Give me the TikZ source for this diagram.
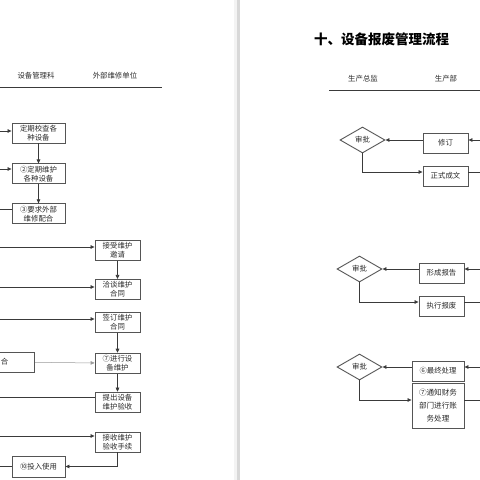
\documentclass[tikz,border=0pt]{standalone}
\usepackage{fontspec}
\setmainfont{Noto Sans CJK SC}
\usepackage{xcolor}
\usepackage{tikz}
\usetikzlibrary{arrows.meta,positioning,shapes.geometric}
\definecolor{fcInk}{HTML}{2B2B2B}
\definecolor{fcLine}{HTML}{3A3A3A}
\definecolor{fcBorder}{HTML}{555555}
\definecolor{fcSoft}{HTML}{9A9A9A}
\definecolor{fcSep}{HTML}{D8D8D8}
\definecolor{fcSepLight}{HTML}{F3F3F3}
\tikzset{
  fbox/.style={rectangle,draw=fcBorder,line width=0.9pt,fill=white,
    minimum width=45pt,minimum height=20pt,inner sep=1pt,
    align=center,font=\fontsize{7.4}{9}\selectfont,text=fcInk},
  lbox/.style={fbox,minimum width=53pt},
  jbox/.style={diamond,draw=fcBorder,line width=0.9pt,fill=white,
    minimum width=45pt,minimum height=26pt,inner sep=0pt,
    font=\fontsize{7.4}{9}\selectfont,text=fcInk},
  arr/.style={-{Triangle[length=4pt,width=3.6pt]},line width=0.7pt,color=fcLine},
  arrg/.style={arr,color=fcSoft,line width=0.5pt},
  lnk/.style={line width=0.7pt,color=fcLine},
  hdr/.style={font=\fontsize{7.4}{9}\selectfont,text=fcInk},
  ttl/.style={font=\fontsize{13.5}{15}\selectfont\bfseries,text=black},
}

\begin{document}
\begin{tikzpicture}[x=1pt,y=1pt]
  \useasboundingbox (0,0) rectangle (480,480);
  % page gap
  \fill[fcSepLight] (233.5,0) rectangle (237,480);
  \fill[fcSep] (237,0) rectangle (239.5,480);

  % left page
  \node[hdr] (hglk) at (36,404) {设备管理科};
  \node[hdr] (hwx) at (115,404) {外部维修单位};
  \draw[lnk] (-5,393) -- (162,393);

  \node[lbox] (jc) at (38.5,347) {定期校查各\\种设备};
  \node[lbox,below=20pt of jc] (dqwh) {②定期维护\\各种设备};
  \node[lbox,below=19pt of dqwh] (yqwx) {③要求外部\\维修配合};

  \node[fbox] (jsyq) at (117.5,229.5) {接受维护\\邀请};
  \node[fbox,below=18pt of jsyq] (qtht) {洽谈维护\\合同};
  \node[fbox,below=12pt of qtht] (qdht) {签订维护\\合同};
  \node[fbox,below=20pt of qdht] (jxwh) {⑦进行设\\备维护};
  \node[fbox,below=18pt of jxwh] (tcys) {提出设备\\维护验收};
  \node[fbox,below=19pt of tcys] (jssx) {接收维护\\验收手续};
  \node[fbox,anchor=east,minimum width=60pt] (peihe) at (35,118) {合};
  \node[lbox,minimum height=21pt] (trsy) at (38.5,13.5) {⑩投入使用};

  \coordinate (l1) at (-5,349);
  \coordinate (l2) at (-5,311);
  \coordinate (l3) at (-5,271);
  \coordinate (l4) at (-5,233);
  \coordinate (l5) at (-5,193);
  \coordinate (l6) at (-5,161);
  \coordinate (l7) at (-5,83);
  \coordinate (l8) at (-5,44);
  \coordinate (l9) at (-5,13.5);

  \draw[arr] (l1) -- (l1 -| jc.west);
  \draw[arr] (l2) -- (l2 -| dqwh.west);
  \draw[lnk] (l3) -- (l3 -| yqwx.west);
  \draw[arr] (jc) -- (dqwh);
  \draw[arr] (dqwh) -- (yqwx);

  \draw[arr] (l4) -- (l4 -| jsyq.west);
  \draw[arr] (l5) -- (l5 -| qtht.west);
  \draw[arr] (l6) -- (l6 -| qdht.west);
  \draw[arr] (jsyq) -- (qtht);
  \draw[arr] (qdht) -- (jxwh);
  \draw[arrg] (peihe) -- (jxwh);
  \draw[arr] (jxwh) -- (tcys);
  \draw[lnk] (l7 -| tcys.west) -- (l7);
  \draw[arr] (l8) -- (l8 -| jssx.west);
  \draw[arr] (jssx.south) |- (trsy.east);
  \draw[lnk] (l9) -- (trsy.west);

  % right page
  \node[ttl] (title) at (381.5,441) {十、设备报废管理流程};
  \node[hdr] (hzj) at (363,401) {生产总监};
  \node[hdr] (hscb) at (446,401) {生产部};
  \draw[lnk] (329,390) -- (485,390);

  \node[jbox] (sp1) at (362.5,340) {审批};
  \node[fbox] (xd) at (445.5,337) {修订};
  \node[fbox] (zscw) at (445.5,304) {正式成文};

  \node[jbox] (sp2) at (359.5,211) {审批};
  \node[fbox] (xcbg) at (441.5,207) {形成报告};
  \node[fbox] (zxbf) at (441.5,174) {执行报废};

  \node[jbox] (sp3) at (359.5,113) {审批};
  \node[fbox,minimum width=52pt] (zzcl) at (438,109) {⑥最终处理};
  \node[fbox,minimum width=52pt,minimum height=45pt,
    font=\fontsize{7.6}{13}\selectfont] (tzcw) at (438,74.5)
    {⑦通知财务\\部门进行账\\务处理};

  \coordinate (r1) at (485,340);
  \coordinate (r2) at (485,308);
  \coordinate (r3) at (485,211);
  \coordinate (r4) at (485,178);
  \coordinate (r5) at (485,113);
  \coordinate (r6) at (485,80);

  \draw[arr] (r1) -- (r1 -| xd.east);
  \draw[arr] (xd.west |- sp1) -- (sp1.east);
  \draw[arr] (sp1.south) |- (zscw.west |- r2);
  \draw[lnk] (zscw.east |- r2) -- (r2);

  \draw[arr] (r3) -- (r3 -| xcbg.east);
  \draw[arr] (xcbg.west |- sp2) -- (sp2.east);
  \draw[arr] (sp2.south) |- (zxbf.west |- r4);
  \draw[lnk] (zxbf.east |- r4) -- (r4);

  \draw[arr] (r5) -- (r5 -| zzcl.east);
  \draw[arr] (zzcl.west |- sp3) -- (sp3.east);
  \draw[arr] (sp3.south) |- (tzcw.west |- r6);
  \draw[lnk] (tzcw.east |- r6) -- (r6);
\end{tikzpicture}
\end{document}
